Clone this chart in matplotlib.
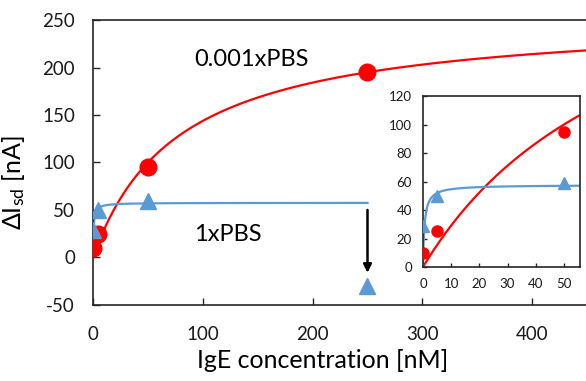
import numpy as np
import matplotlib
matplotlib.use("Agg")
import matplotlib.pyplot as plt

plt.rcParams['font.family'] = ['Lato', 'DejaVu Sans']
plt.rcParams['mathtext.fontset'] = 'custom'
plt.rcParams['mathtext.rm'] = 'Lato'
plt.rcParams['mathtext.it'] = 'Lato'
plt.rcParams['axes.unicode_minus'] = False

# measured points
conc_low = [0, 5, 50, 250]          # nM, 0.001xPBS
dI_low = [10, 25, 95, 195]
conc_high = [0, 5, 50, 250]         # nM, 1xPBS
dI_high = [29, 50, 59, -30]

# Langmuir fit parameters
bmax_low, kd_low = 255.8, 77.9
bmax_high, kd_high = 57.6, 0.55

red = '#FF0000'
blue = '#5B9BD5'
spine_col = '#262626'


def langmuir(x, bmax, kd):
    return bmax * x / (kd + x)


fig = plt.figure(figsize=(5.86, 3.81), dpi=100)
ax = fig.add_axes([0.1587, 0.1995, 0.8413, 0.748])

x_fit = np.linspace(0, 460, 600)
ax.plot(x_fit, langmuir(x_fit, bmax_low, kd_low), color=red, lw=1.6, zorder=2)
xb = np.linspace(0, 250, 600)
ax.plot(xb, langmuir(xb, bmax_high, kd_high), color=blue, lw=1.6, zorder=2)
ax.plot(conc_low, dI_low, 'o', color=red, ms=12, zorder=3)
ax.plot(conc_high, dI_high, '^', color=blue, ms=12, zorder=3)

ax.annotate('', xy=(250, -19), xytext=(250, 53),
            arrowprops=dict(arrowstyle='-|>', color='black', lw=1.8,
                            mutation_scale=12))

ax.text(144, 208, '0.001xPBS', fontsize=17, ha='center', va='center')
ax.text(123, 24, '1xPBS', fontsize=17, ha='center', va='center')

ax.set_xlim(0, 449)
ax.set_ylim(-50, 250)
ax.set_xticks([0, 100, 200, 300, 400])
ax.set_yticks(range(-50, 251, 50))
ax.tick_params(direction='in', length=5, width=1, labelsize=13.5,
               colors=spine_col, labelcolor='#1a1a1a')
ax.tick_params(axis='x', pad=15)
ax.tick_params(axis='y', pad=13)
ax.spines['right'].set_visible(False)
for s in ['left', 'top', 'bottom']:
    ax.spines[s].set_color(spine_col)
    ax.spines[s].set_linewidth(1.2)
ax.set_xlabel('IgE concentration [nM]', fontsize=18)
ax.set_ylabel(r'$\Delta$I$_{\rm sd}$ [nA]', fontsize=18)
ax.xaxis.set_label_coords(0.465, -0.155)
ax.yaxis.set_label_coords(-0.134, 0.43)

# inset: zoom on low concentration
ins = fig.add_axes([0.7218, 0.2992, 0.268, 0.4488])
ins.set_facecolor('white')
xi = np.linspace(0, 60, 600)
ins.plot(xi, langmuir(xi, bmax_low, kd_low), color=red, lw=1.6, zorder=2)
ins.plot(xi, langmuir(xi, bmax_high, kd_high), color=blue, lw=1.6, zorder=2)
ins.plot(conc_low[:3], dI_low[:3], 'o', color=red, ms=8, zorder=3)
ins.plot(conc_high[:3], dI_high[:3], '^', color=blue, ms=8, zorder=3)
ins.set_xlim(0, 55.7)
ins.set_ylim(0, 120)
ins.set_xticks(range(0, 51, 10))
ins.set_yticks(range(0, 121, 20))
ins.tick_params(direction='in', length=3, width=1, labelsize=9.5,
                colors=spine_col, labelcolor='#1a1a1a', pad=8)
for s in ins.spines.values():
    s.set_color(spine_col)
    s.set_linewidth(1.2)

fig.savefig('out.png', dpi=100)
